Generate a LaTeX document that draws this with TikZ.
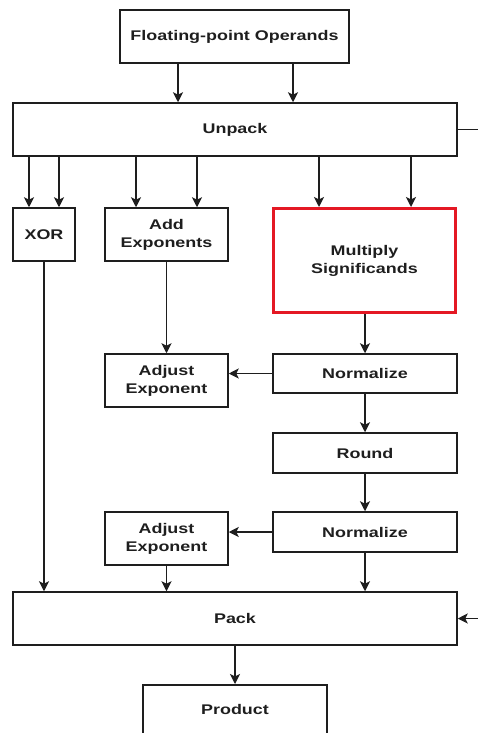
\documentclass[tikz,border=0pt]{standalone}
\usepackage{fontspec}
\setmainfont{Liberation Sans}[FakeStretch=1.28]
\usetikzlibrary{arrows.meta}
\definecolor{boxred}{RGB}{228,24,36}
\definecolor{ink}{RGB}{30,30,30}
\begin{document}
\begin{tikzpicture}[x=1pt,y=-1pt,
  box/.style={draw=ink, line width=1.5pt, rectangle, inner sep=0pt,
    align=center, text=ink, font=\fontsize{14}{18}\selectfont\bfseries},
  hot/.style={box, draw=boxred, line width=3pt},
  arr/.style={draw=ink, line width=1.5pt, -{Stealth[length=10pt,width=10pt,inset=2.5pt]}},
  wire/.style={draw=ink, line width=1.5pt}]
\useasboundingbox (0,0) rectangle (478,733);
\clip (0,0) rectangle (478,733);

% blocks
\node[box, minimum width=229pt, minimum height=53pt] (fpo) at (234.5,36.5) {Floating-point Operands};
\node[box, minimum width=444pt, minimum height=53pt] (unpack) at (235,129.5) {Unpack};
\node[box, minimum width=62pt, minimum height=53pt] (xor) at (44,234.5) {XOR};
\node[box, minimum width=123pt, minimum height=53pt] (addexp) at (166.5,234.5) {Add\\Exponents};
\node[hot, minimum width=182pt, minimum height=104pt] (mult) at (364.5,260.5) {Multiply\\Significands};
\node[box, minimum width=123pt, minimum height=53pt] (adjA) at (166.5,380.5) {Adjust\\Exponent};
\node[box, minimum width=184pt, minimum height=39pt] (normA) at (365,373.5) {Normalize};
\node[box, minimum width=184pt, minimum height=40pt] (round) at (365,453) {Round};
\node[box, minimum width=184pt, minimum height=40pt] (normB) at (365,532) {Normalize};
\node[box, minimum width=123pt, minimum height=53pt] (adjB) at (166.5,538.5) {Adjust\\Exponent};
\node[box, minimum width=444pt, minimum height=53pt] (pack) at (235,618.5) {Pack};
\node[box, minimum width=184pt, minimum height=100pt, anchor=north] (prod) at (235,684) {};
\node[text=ink, font=\fontsize{14}{18}\selectfont\bfseries] (prodlabel) at (235,709) {Product};

% column positions of the connectors
\coordinate (cA) at (178,0);
\coordinate (cB) at (293,0);
\coordinate (c1) at (29,0);
\coordinate (c2) at (59,0);
\coordinate (c3) at (136,0);
\coordinate (c4) at (197,0);
\coordinate (c5) at (319,0);
\coordinate (c6) at (411,0);
\coordinate (cX) at (44,0);
\coordinate (cE) at (166.5,0);
\coordinate (cM) at (365,0);
\coordinate (outR) at (478,129.5);
\coordinate (inR) at (478,618.5);

% operands into unpack
\draw[arr] (fpo.south -| cA) -- (unpack.north -| cA);
\draw[arr] (fpo.south -| cB) -- (unpack.north -| cB);
\draw[wire] (unpack.east) -- (outR);

% unpack fan-out
\draw[arr] (unpack.south -| c1) -- (xor.north -| c1);
\draw[arr] (unpack.south -| c2) -- (xor.north -| c2);
\draw[arr] (unpack.south -| c3) -- (addexp.north -| c3);
\draw[arr] (unpack.south -| c4) -- (addexp.north -| c4);
\draw[arr] (unpack.south -| c5) -- (mult.north -| c5);
\draw[arr] (unpack.south -| c6) -- (mult.north -| c6);

% exponent and significand paths
\draw[arr] (addexp.south) -- (adjA.north);
\draw[arr] (mult.south -| cM) -- (normA.north);
\draw[arr] (normA.west) -- (adjA.east |- normA.west);
\draw[arr] (normA.south) -- (round.north);
\draw[arr] (round.south) -- (normB.north);
\draw[arr] (normB.west) -- (adjB.east |- normB.west);

% into pack
\draw[arr] (xor.south) -- (pack.north -| cX);
\draw[arr] (adjB.south) -- (pack.north -| cE);
\draw[arr] (normB.south) -- (pack.north -| cM);
\draw[arr] (inR) -- (pack.east);
\draw[arr] (pack.south) -- (prod.north);
\end{tikzpicture}
\end{document}
